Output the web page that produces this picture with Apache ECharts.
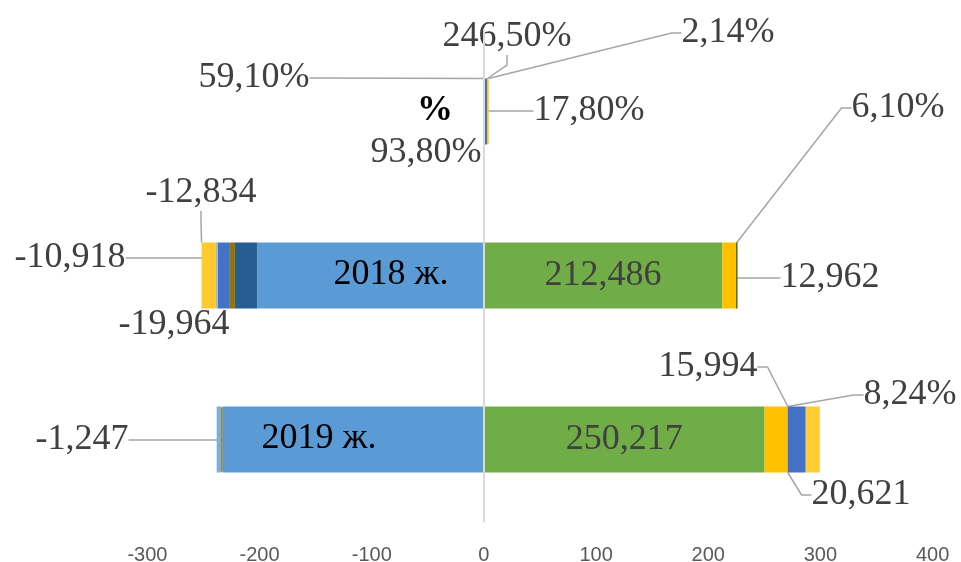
<!DOCTYPE html>
<html><head><meta charset="utf-8">
<script src="https://cdn.jsdelivr.net/npm/echarts@6/dist/echarts.min.js"></script>
<style>html,body{margin:0;padding:0;background:#fff}#c{width:961px;height:562px}</style>
</head><body><div id="c"></div>
<script>
// ---- data ----
const categories = ['%', '2018 ж.', '2019 ж.'];
const xMin = -300, xMax = 400, xStep = 100;

// stacked segments, ordered outward from zero; '-' = no segment in that row
const seg1  = [0.591, -202.0, -233.0];
const seg2  = [2.465, -19.964, -1.247];
const seg3  = [0.938, -4.5, -4.0];
const seg4  = [0.178, -10.918, '-'];
const seg5  = [0.0214, -1.5, '-'];
const seg6  = ['-', -12.834, '-'];
const seg7  = ['-', 212.486, 250.217];
const seg8  = ['-', 12.962, 20.621];
const seg9  = ['-', 0.061, 0.0824];
const seg10 = ['-', '-', 15.994];
const seg11 = ['-', '-', 12.5];

// data label texts
const lab1  = ['59,10%', '', ''];
const lab2  = ['246,50%', '-19,964', '-1,247'];
const lab3  = ['93,80%', '', ''];
const lab4  = ['17,80%', '-10,918', ''];
const lab5  = ['2,14%', '', ''];
const lab6  = ['', '-12,834', ''];
const lab7  = ['', '212,486', '250,217'];
const lab8  = ['', '12,962', '20,621'];
const lab9  = ['', '6,10%', '8,24%'];
const lab10 = ['', '', '15,994'];
const lab11 = ['', '', ''];

// ---- styles ----
const cols = [
  ['#5B9BD5', '#5B9BD5', '#5B9BD5'],
  ['#4472C4', '#255E91', '#997300'],
  ['#FFC000', '#997300', '#7CAFDD'],
  ['#FFC000', '#4472C4', '#4472C4'],
  ['#FFC000', '#9DB7DF', '#9DB7DF'],
  ['#FFCA2C', '#FFCA2C', '#FFCA2C'],
  ['#70AD47', '#70AD47', '#70AD47'],
  ['#FFC000', '#FFC000', '#FFC000'],
  ['#43682B', '#43682B', '#43682B'],
  ['#4472C4', '#4472C4', '#4472C4'],
  ['#FFCD33', '#FFCD33', '#FFCD33']
];
const thinBorder = {'1-2': 1.5, '8-1': 1, '2-0': 1};
// moved label placements: [x, y, showLeaderLine]
const labelPlace = {
  '0-0': [254, 78, true],
  '1-0': [507, 37, true],
  '2-0': [426, 153, false],
  '3-0': [589, 111, true],
  '4-0': [728, 33, true],
  '1-1': [174, 325, false],
  '3-1': [70, 258, true],
  '5-1': [201, 193, true],
  '7-1': [830, 278, true],
  '8-1': [898, 108, true],
  '1-2': [82, 440, true],
  '7-2': [861, 495, true],
  '8-2': [910, 395, true],
  '9-2': [708, 367, true]
};
const insideOffset = {'6-2': [-13, 0]};
// category name labels (placed inside the rows)
const catPlace = [[435, 111], [391, 275], [319, 439]];

const segs = [seg1, seg2, seg3, seg4, seg5, seg6, seg7, seg8, seg9, seg10, seg11];
const labs = [lab1, lab2, lab3, lab4, lab5, lab6, lab7, lab8, lab9, lab10, lab11];

const serif = '"Liberation Serif", "Times New Roman", serif';

const series = segs.map((vals, si) => ({
  type: 'bar',
  stack: 'all',
  barWidth: 66,
  animation: false,
  emphasis: {disabled: true},
  data: vals.map((v, di) => {
    const key = si + '-' + di;
    const place = labelPlace[key];
    const item = {
      value: v,
      itemStyle: {color: cols[si][di]},
      label: {show: v !== '-' && labs[si][di] !== ''},
      labelLine: {show: !!(place && place[2])}
    };
    if (thinBorder[key]) {
      item.itemStyle.borderColor = cols[si][di];
      item.itemStyle.borderWidth = thinBorder[key];
    }
    if (insideOffset[key]) item.label.offset = insideOffset[key];
    return item;
  }),
  label: {
    position: 'inside',
    formatter: p => labs[si][p.dataIndex],
    fontFamily: serif,
    fontSize: 36,
    color: '#404040'
  },
  labelLine: {
    length2: 10,
    lineStyle: {color: '#A6A6A6', width: 1.5}
  },
  labelLayout: p => {
    const pl = labelPlace[p.seriesIndex + '-' + p.dataIndex];
    return pl ? {x: pl[0], y: pl[1], align: 'center', verticalAlign: 'middle'} : {};
  }
}));

// category-name carrier (zero-length bars, only labels visible)
series.push({
  type: 'bar',
  stack: 'cat',
  barWidth: 66,
  barGap: '-100%',
  emphasis: {disabled: true},
  itemStyle: {color: 'transparent'},
  data: categories.map(() => 0),
  z: 5,
  label: {
    show: true,
    position: 'inside',
    formatter: p => '{c' + p.dataIndex + '|' + categories[p.dataIndex] + '}',
    rich: {
      c0: {fontFamily: serif, fontSize: 36, fontWeight: 'bold', color: '#000000'},
      c1: {fontFamily: serif, fontSize: 36, color: '#000000'},
      c2: {fontFamily: serif, fontSize: 36, color: '#000000'}
    }
  },
  labelLayout: p => ({x: catPlace[p.dataIndex][0], y: catPlace[p.dataIndex][1], align: 'center', verticalAlign: 'middle'})
});

const chart = echarts.init(document.getElementById('c'), null, {renderer: 'canvas'});
chart.setOption({
  animation: false,
  backgroundColor: '#ffffff',
  grid: {left: 147.4, right: 28.4, top: 29.5, bottom: 40.5, outerBoundsMode: 'none'},
  xAxis: {
    type: 'value', min: xMin, max: xMax, interval: xStep,
    axisLine: {show: false}, axisTick: {show: false}, splitLine: {show: false},
    axisLabel: {fontFamily: '"Liberation Sans", Arial, sans-serif', fontSize: 20, color: '#595959', margin: 24}
  },
  yAxis: {
    type: 'category', data: categories, inverse: true, z: 10,
    axisTick: {show: false},
    axisLine: {onZero: true, lineStyle: {color: '#D9D9D9', width: 2}},
    axisLabel: {show: false}
  },
  series: series
});
</script>
</body></html>
